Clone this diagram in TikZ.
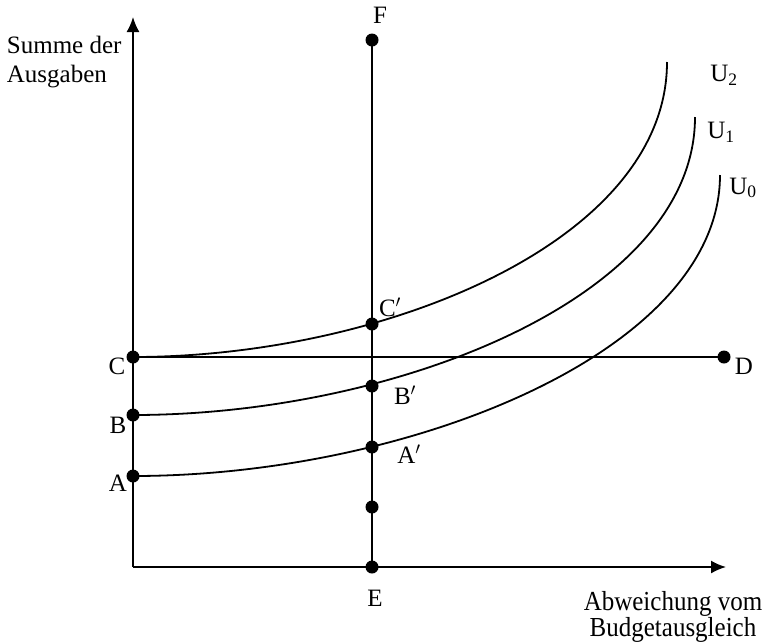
\documentclass[tikz,border=0pt]{standalone}
\usepackage{fontspec}
\setmainfont{Liberation Serif}
\usetikzlibrary{arrows.meta}
\begin{document}
\begin{tikzpicture}[x=1pt,y=-1pt,
  line width=1.8pt,
  dot/.style={circle,fill=black,inner sep=0pt,minimum size=13pt},
  lbl/.style={inner sep=0pt,font=\fontsize{25}{29}\selectfont},
  axis/.style={-{Latex[length=15pt,width=13pt]}},
  curve/.style={line width=1.8pt}]
\useasboundingbox (0,0) rectangle (767,641);
% axes
\coordinate (O) at (133,567);
\coordinate (ytop) at (133,17);
\coordinate (xend) at (726,567);
\draw[axis] (O) -- (ytop);
\draw[axis] (O) -- (xend);
% dots
\node[dot] (C) at (133,357) {};
\node[dot] (B) at (133,415) {};
\node[dot] (A) at (133,476) {};
\node[dot] (F) at (372,40) {};
\node[dot] (E) at (372,567) {};
\node[dot] (X) at (372,507) {};
\node[dot] (Cp) at (372,324) {};
\node[dot] (Bp) at (372,386) {};
\node[dot] (Ap) at (372,447) {};
\node[dot] (D) at (724,357) {};
% lines
\draw (F.center) -- (E.center);
\draw (C.center) -- (D.center);
% curves
\coordinate (U2end) at (667,62);
\coordinate (U1end) at (695,117);
\coordinate (U0end) at (720,175);
\draw[curve] (C.center) .. controls (383,357) and (667,242) .. (U2end);
\draw[curve] (B.center) .. controls (396,415) and (695,297) .. (U1end);
\draw[curve] (A.center) .. controls (408,476) and (720,352) .. (U0end);
% labels
\node[lbl] (lF) at (380,15) {F};
\node[lbl,align=left,anchor=north west] (lY) at (6,35) {Summe der\\Ausgaben};
\node[lbl] (lU2) at (724,75) {U\textsubscript{2}};
\node[lbl] (lU1) at (721,132) {U\textsubscript{1}};
\node[lbl] (lU0) at (743,188) {U\textsubscript{0}};
\node[lbl] (lC) at (117,366) {C};
\node[lbl] (lB) at (118,425) {B};
\node[lbl] (lA) at (118,483) {A};
\node[lbl] (lCp) at (390,307) {C$'$};
\node[lbl] (lBp) at (405,395) {B$'$};
\node[lbl] (lAp) at (409,454) {A$'$};
\node[lbl] (lD) at (744,366) {D};
\node[lbl] (lE) at (375,598) {E};
\node[lbl,anchor=base] (lX1) at (673,610) {\scalebox{1}[1.1]{Abweichung vom}};
\node[lbl,anchor=base] (lX2) at (673,636) {\scalebox{1}[1.1]{Budgetausgleich}};
\end{tikzpicture}
\end{document}
